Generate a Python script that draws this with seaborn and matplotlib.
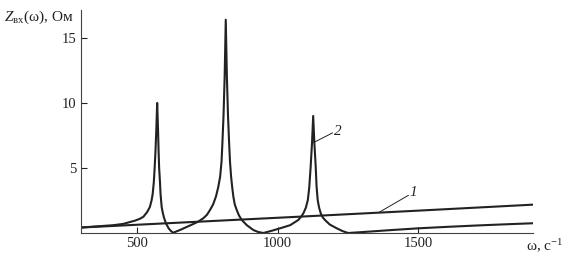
import matplotlib
matplotlib.use("Agg")
import matplotlib.pyplot as plt
import seaborn as sns
import pandas as pd

# Curve 1 (straight, slowly rising)
omega1 = [300, 700, 1100, 1500, 1908]
z1 = [0.42, 0.85, 1.28, 1.72, 2.18]

# Curve 2 (resonances)
omega2 = [300, 350, 415, 450, 492, 510, 522, 535, 545, 551, 555, 559, 562, 565, 568, 571,
          574, 576, 578, 581, 583, 585, 587, 591, 595, 602, 612, 620, 628,
          652, 690, 715, 735, 748, 759, 770, 780, 788, 795, 800, 803, 807, 811, 815,
          819, 823, 827, 830, 834, 838, 842, 847, 854, 862, 872, 890, 913, 930, 949,
          980, 1008, 1044, 1073, 1083, 1091, 1100, 1107, 1112, 1117, 1122, 1126,
          1130, 1135, 1138, 1142, 1147, 1153, 1160, 1168, 1185, 1210, 1230, 1250,
          1300, 1400, 1500, 1600, 1700, 1800, 1908]
z2 = [0.42, 0.5, 0.6, 0.7, 0.95, 1.1, 1.25, 1.6, 2.0, 2.5, 3.0, 3.9, 5.0, 6.3, 8.0, 10.0,
      8.0, 6.3, 5.0, 3.9, 3.0, 2.5, 2.0, 1.55, 1.2, 0.75, 0.35, 0.15, 0.02,
      0.23, 0.6, 0.85, 1.13, 1.4, 1.77, 2.2, 2.8, 3.5, 4.33, 5.5, 6.9, 9.0, 12.0, 16.4,
      12.0, 9.0, 6.9, 5.5, 4.33, 3.5, 2.8, 2.2, 1.77, 1.35, 1.0, 0.6, 0.23, 0.08, 0.0,
      0.18, 0.36, 0.6, 1.0, 1.25, 1.51, 1.95, 2.54, 3.5, 5.1, 7.0, 9.0,
      7.0, 5.1, 3.6, 2.54, 1.95, 1.51, 1.2, 1.0, 0.65, 0.36, 0.15, 0.0,
      0.07, 0.22, 0.36, 0.47, 0.57, 0.66, 0.75]

xticks = [500, 1000, 1500]
yticks = [5, 10, 15]

sns.set_style("ticks")
plt.rcParams['font.family'] = ['Liberation Serif', 'DejaVu Serif']
plt.rcParams['mathtext.fontset'] = 'custom'
plt.rcParams['mathtext.rm'] = 'Liberation Serif'
plt.rcParams['mathtext.it'] = 'Liberation Serif:italic'

fig = plt.figure(figsize=(5.64, 2.59), dpi=100)
ax = fig.add_axes([81/564, 1 - 233/259, (533 - 81)/564, (233 - 10)/259])

col = '#222222'
d1 = pd.DataFrame({'w': omega1, 'z': z1})
d2 = pd.DataFrame({'w': omega2, 'z': z2})
sns.lineplot(data=d1, x='w', y='z', ax=ax, color=col, lw=1.5, sort=False)
sns.lineplot(data=d2, x='w', y='z', ax=ax, color=col, lw=1.5, sort=False)

ax.set_xlim(300, 1908)
ax.set_ylim(0, 17.15)
ax.set_xticks(xticks)
ax.set_yticks(yticks)
ax.tick_params(direction='in', length=4.5, width=0.8, labelsize=10.5, colors='#222222', pad=3)
for s in ['top', 'right']:
    ax.spines[s].set_visible(False)
for s in ['left', 'bottom']:
    ax.spines[s].set_linewidth(0.8)
    ax.spines[s].set_color('#444444')
ax.set_xlabel('')
ax.set_ylabel('')

# axis titles
fig.text(4/564, 1 - 17/259, r'$Z_{\mathrm{вх}}$(ω), Ом', fontsize=11, va='center', ha='left', color='#222222')
fig.text(563/564, 1 - 246/259, r'ω, с$^{-1}$', fontsize=11, va='center', ha='right', color='#222222')

# curve labels with leader lines
ax.plot([1127, 1195], [6.95, 7.7], color=col, lw=0.7)
ax.text(1200, 7.8, '2', fontsize=11, style='italic', va='center', ha='left', color='#222222')
ax.plot([1358, 1465], [1.56, 2.9], color=col, lw=0.7)
ax.text(1468, 3.1, '1', fontsize=11, style='italic', va='center', ha='left', color='#222222')

fig.savefig('out.png', dpi=100)
